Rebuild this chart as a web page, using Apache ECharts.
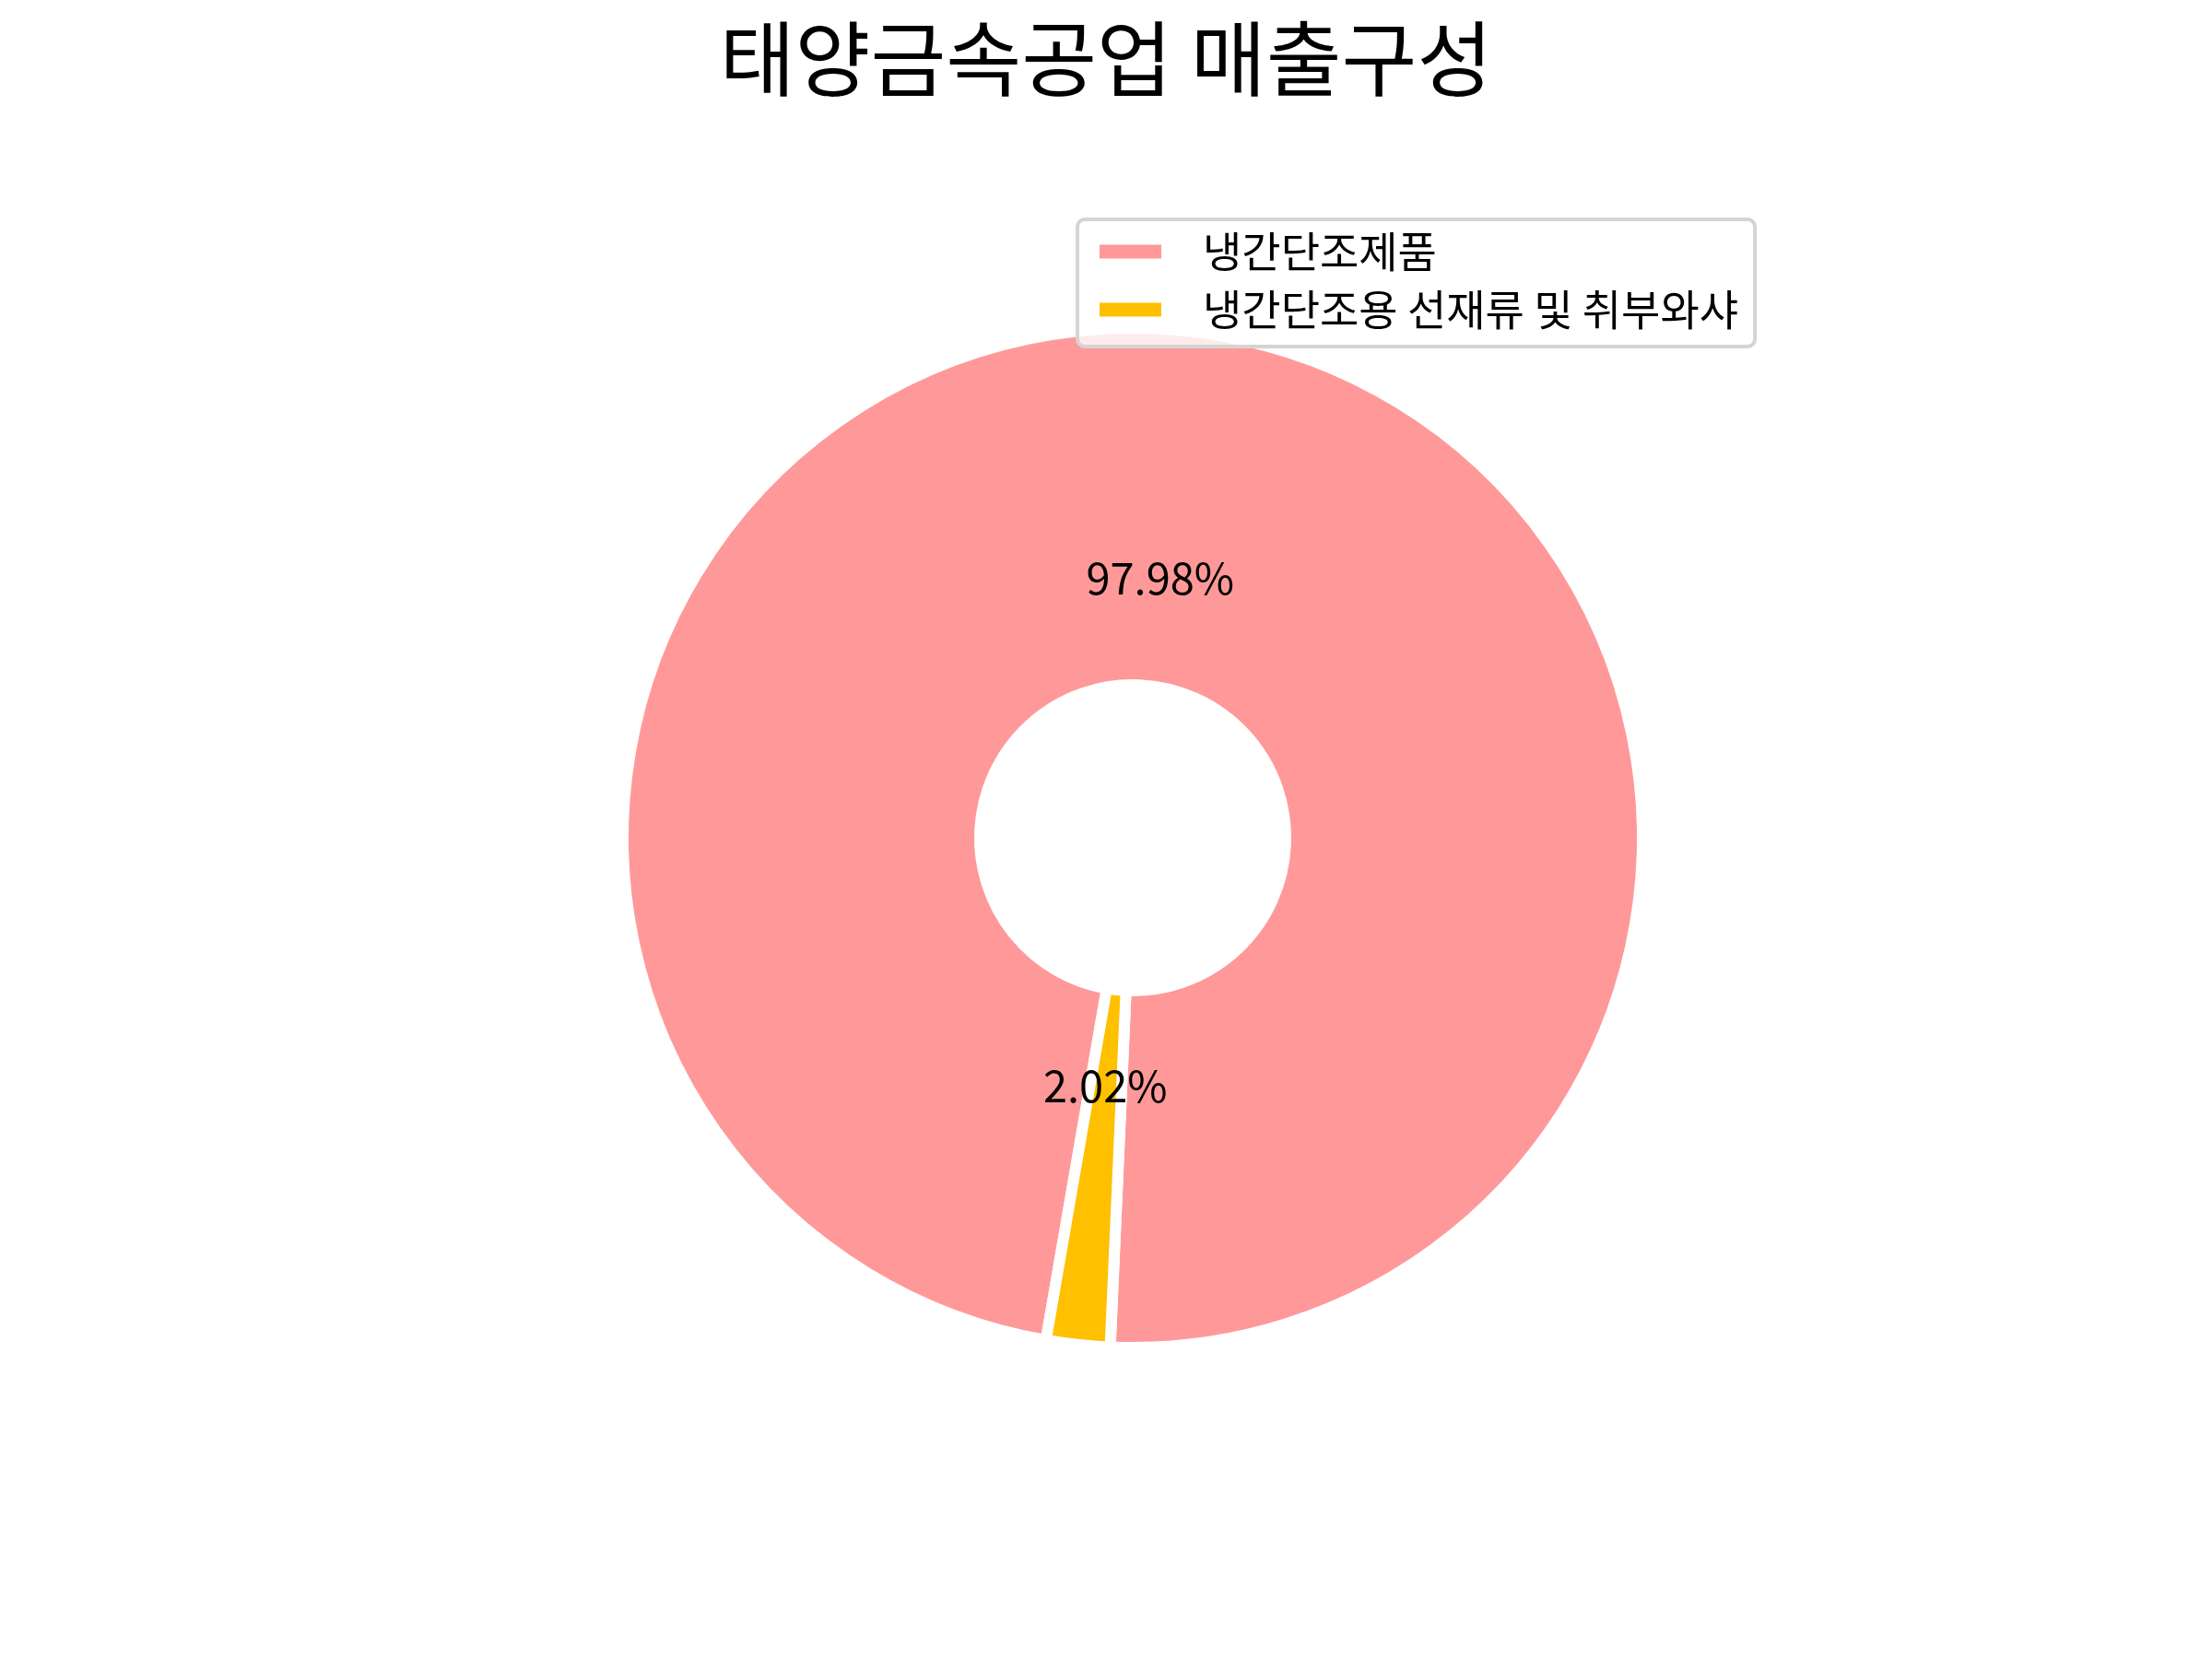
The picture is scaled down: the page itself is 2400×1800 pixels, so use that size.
<!DOCTYPE html>
<html>
<head>
<meta charset="utf-8">
<script src="https://cdn.jsdelivr.net/npm/echarts@6/dist/echarts.min.js"></script>
<style>
html,body{margin:0;padding:0;background:#fff;}
#chart{width:2400px;height:1800px;}
</style>
</head>
<body>
<div id="chart"></div>
<script>
const titleText = '태양금속공업 매출구성';
const categories = ['냉간단조제품', '냉간단조용 선재류 및 취부와샤'];
const values = [97.98, 2.02];
const colors = ['#ff9999', '#ffc000'];

const FONT = 'Noto Sans CJK KR';
const chart = echarts.init(document.getElementById('chart'), null, {renderer: 'canvas'});

const dataMain = categories.map((c, i) => ({name: c, value: values[i], itemStyle: {color: colors[i]}}));
const dataLabel = categories.map((c, i) => ({name: c, value: values[i]}));

chart.setOption({
  backgroundColor: '#ffffff',
  animation: false,
  title: {
    text: titleText,
    left: 'center',
    top: 14,
    textStyle: {fontFamily: FONT, fontSize: 89, fontWeight: 'normal', color: '#000'}
  },
  legend: {
    data: categories,
    orient: 'vertical',
    left: 1169,
    top: 238,
    icon: 'rect',
    itemWidth: 69,
    itemHeight: 17,
    itemGap: 17,
    padding: [12, 18, 17, 22],
    backgroundColor: 'rgba(255,255,255,0.8)',
    borderColor: '#d4d4d4',
    borderWidth: 4,
    borderRadius: 8,
    selectedMode: false,
    textStyle: {fontFamily: FONT, fontSize: 46, lineHeight: 46, color: '#000', padding: [0, 0, 0, 39]}
  },
  series: [
    {
      type: 'pie',
      center: [1229, 909],
      radius: [166, 553],
      startAngle: 260.2,
      clockwise: true,
      silent: true,
      label: {show: false},
      labelLine: {show: false},
      itemStyle: {borderColor: '#ffffff', borderWidth: 12},
      data: dataMain
    },
    {
      type: 'pie',
      center: [1229, 909],
      radius: [0, 548],
      startAngle: 260.2,
      clockwise: true,
      silent: true,
      itemStyle: {color: 'rgba(0,0,0,0)', borderWidth: 0},
      emphasis: {disabled: true},
      label: {
        show: true,
        position: 'inside',
        offset: [0, -6],
        formatter: p => p.value.toFixed(2) + '%',
        fontFamily: FONT,
        fontSize: 47,
        color: '#000'
      },
      labelLine: {show: false},
      data: dataLabel
    }
  ]
});
</script>
</body>
</html>
